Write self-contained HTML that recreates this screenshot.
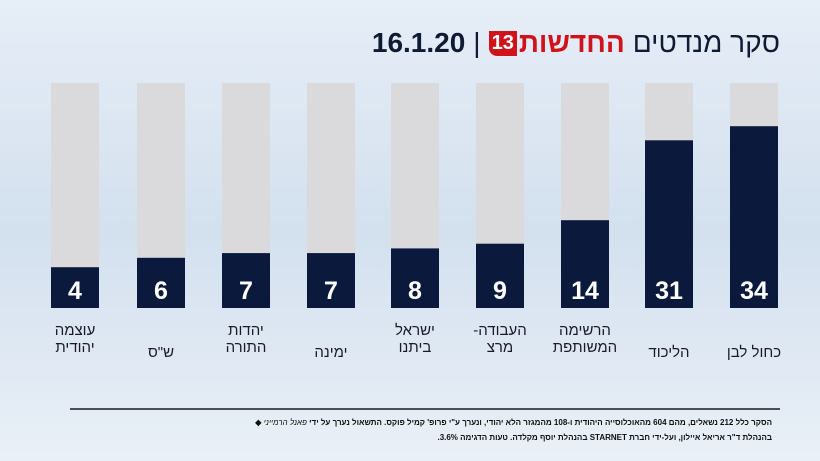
<!DOCTYPE html>
<html lang="he"><head><meta charset="utf-8">
<style>
body{margin:0;width:820px;height:461px;overflow:hidden;background:#e4ecf5;font-family:"Liberation Sans","DejaVu Sans",sans-serif;position:relative}
#bg{position:absolute;left:0;top:0}
.t{position:absolute;white-space:nowrap}
</style></head><body>
<svg id="bg" width="820" height="461">
<defs><linearGradient id="g" x1="0" y1="0" x2="0" y2="1"><stop offset="0" stop-color="#e6eef7"/><stop offset="0.5" stop-color="#d3e0ee"/><stop offset="1" stop-color="#e9f0f8"/></linearGradient></defs>
<rect width="820" height="461" fill="url(#g)"/>
<line x1="70" y1="409" x2="780" y2="409" stroke="#1a1a1a" stroke-width="1.5"/>
<g id="bars"></g>
</svg>
<div class="t" style="left:300px;top:27px;width:480px;direction:rtl;font-size:28px;color:#0f1a33;display:flex;align-items:center;gap:8px">
<span>סקר מנדטים</span>
<span style="font-weight:bold;color:#d0121b;display:flex;align-items:center">החדשות<span style="background:#d0121b;color:#fff;font-size:20px;padding:1px 3px;margin-right:2px;border-radius:0 0 0 8px">13</span></span>
<span style="font-weight:300">|</span>
<span style="font-weight:bold">16.1.20</span>
</div>
<div class="t" style="right:48px;top:415px;direction:rtl;font-size:8px;line-height:15px;color:#111;font-family:'Liberation Sans Narrow','Liberation Sans',sans-serif;font-weight:bold">
הסקר כלל 212 נשאלים, מהם 604 מהאוכלוסייה היהודית ו-108 מהמגזר הלא יהודי, ונערך ע"י פרופ' קמיל פוקס. התשאול נערך על ידי <i style="font-weight:normal">פאנל הרמייני</i> ◆<br>
בהנהלת ד"ר אריאל איילון, ועל-ידי חברת STARNET בהנהלת יוסף מקלדה. טעות הדגימה 3.6%.
</div>
<script>
const parties=["כחול לבן","הליכוד","הרשימה המשותפת","העבודה- מרצ","ישראל ביתנו","ימינה","יהדות התורה","ש\"ס","עוצמה יהודית"];
const seats=[34,31,14,9,8,7,7,6,4];
const centers=[754,669,585,500,415,331,246,161,75];
const ns="http://www.w3.org/2000/svg";
const g=document.getElementById('bars');
const top0=83,bottom=308,bw=48;
function yH(v){return 22+4.7*v;}
seats.forEach((v,i)=>{
 const cx=centers[i];
 const bg=document.createElementNS(ns,'rect');
 bg.setAttribute('x',cx-bw/2);bg.setAttribute('y',top0);bg.setAttribute('width',bw);bg.setAttribute('height',bottom-top0);bg.setAttribute('fill','#dadadd');
 
 
 g.appendChild(bg);
 const h=yH(v);
 const r=document.createElementNS(ns,'rect');
 r.setAttribute('x',cx-bw/2);r.setAttribute('y',bottom-h);r.setAttribute('width',bw);r.setAttribute('height',h);r.setAttribute('fill','#0b1a3c');
 
 
 g.appendChild(r);
 const t=document.createElementNS(ns,'text');
 t.setAttribute('x',cx);t.setAttribute('y',299);t.setAttribute('text-anchor','middle');t.setAttribute('fill','#fff');t.setAttribute('font-size','25');t.setAttribute('font-weight','bold');t.setAttribute('font-family','Liberation Sans, sans-serif');
 t.textContent=v;
 
 
 g.appendChild(t);
 const words=parties[i].split(' ');
 let lines=words.length>1&&parties[i].length>6?words:[parties[i]];
 if(parties[i]==="כחול לבן")lines=[parties[i]];
 const y0=lines.length>1?335:357;
 lines.forEach((w,k)=>{
  const l=document.createElementNS(ns,'text');
  l.setAttribute('x',cx);l.setAttribute('y',y0+k*17);l.setAttribute('text-anchor','middle');l.setAttribute('direction','rtl');l.setAttribute('fill','#1a1a2a');l.setAttribute('font-size','15');l.setAttribute('font-family','Liberation Sans, DejaVu Sans, sans-serif');
  l.textContent=w;
  
  
  g.appendChild(l);
 });
});
</script>
</body></html>
